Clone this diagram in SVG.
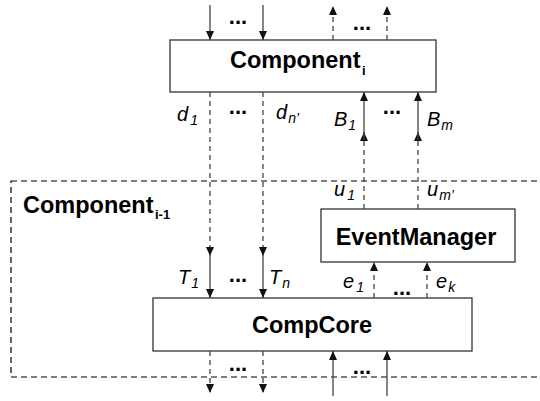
<svg xmlns="http://www.w3.org/2000/svg" width="540" height="401" viewBox="0 0 540 401">
<style>
.box{fill:#fff;stroke:#333;stroke-width:1.3}
.title{font-family:"Liberation Sans",Arial,sans-serif;font-weight:bold;font-size:23.5px;fill:#000}
.sub{font-family:"Liberation Sans",Arial,sans-serif;font-weight:bold;font-size:13px;fill:#000}
.lbl{font-family:"Liberation Sans",Arial,sans-serif;font-style:italic;font-size:20px;fill:#000}
.ls{font-size:14px}
.dots{font-family:"Liberation Sans",Arial,sans-serif;font-weight:bold;font-size:22px;fill:#000;text-anchor:middle}
.solid{stroke:#444;stroke-width:1.3;fill:none}
.dash{stroke:#444;stroke-width:1.3;fill:none;stroke-dasharray:5 4}
</style>
<defs>
<marker id="ah" markerUnits="userSpaceOnUse" markerWidth="9" markerHeight="8" refX="9" refY="4" orient="auto">
<path d="M0,0 L9,4 L0,8 z" fill="#111"/>
</marker>
</defs>
<rect id="outer" x="11" y="181" width="535" height="196" fill="none" stroke="#000" stroke-width="1.2" stroke-dasharray="6 4"/>
<text class="title" x="23" y="213">Component</text><text class="sub" x="155" y="219">i-1</text>
<g id="component_i">
<rect class="box" x="170" y="40" width="266" height="52"/>
<text class="title" x="230" y="68">Component</text><text class="sub" x="362" y="75">i</text>
</g>
<g id="eventmanager">
<rect class="box" x="321" y="209" width="194" height="53"/>
<text class="title" x="416" y="245" text-anchor="middle">EventManager</text>
</g>
<g id="compcore">
<rect class="box" x="153" y="298" width="319" height="53"/>
<text class="title" x="312" y="333" text-anchor="middle">CompCore</text>
</g>
<g id="connectors">
<line class="solid" x1="210" y1="5" x2="210" y2="40" marker-end="url(#ah)"/>
<line class="solid" x1="263" y1="5" x2="263" y2="40" marker-end="url(#ah)"/>
<line class="dash" x1="333" y1="40" x2="333" y2="6" marker-end="url(#ah)"/>
<line class="dash" x1="387" y1="40" x2="387" y2="6" marker-end="url(#ah)"/>
<line class="dash" x1="210" y1="92" x2="210" y2="256" marker-end="url(#ah)"/>
<line class="dash" x1="263" y1="92" x2="263" y2="256" marker-end="url(#ah)"/>
<line class="solid" x1="210" y1="256" x2="210" y2="298" marker-end="url(#ah)"/>
<line class="solid" x1="263" y1="256" x2="263" y2="298" marker-end="url(#ah)"/>
<line class="dash" x1="364" y1="209" x2="364" y2="132" marker-end="url(#ah)"/>
<line class="dash" x1="418" y1="209" x2="418" y2="132" marker-end="url(#ah)"/>
<line class="solid" x1="364" y1="140" x2="364" y2="92" marker-end="url(#ah)"/>
<line class="solid" x1="418" y1="140" x2="418" y2="92" marker-end="url(#ah)"/>
<line class="dash" x1="374" y1="298" x2="374" y2="262" marker-end="url(#ah)"/>
<line class="dash" x1="427" y1="298" x2="427" y2="262" marker-end="url(#ah)"/>
<line class="dash" x1="210" y1="351" x2="210" y2="393" marker-end="url(#ah)"/>
<line class="dash" x1="263" y1="351" x2="263" y2="393" marker-end="url(#ah)"/>
<line class="solid" x1="333" y1="396" x2="333" y2="351" marker-end="url(#ah)"/>
<line class="solid" x1="387" y1="396" x2="387" y2="351" marker-end="url(#ah)"/>
</g>
<g id="labels">
<text class="dots" x="238" y="24">...</text>
<text class="dots" x="362" y="30">...</text>
<text class="dots" x="238" y="114">...</text>
<text class="dots" x="392" y="114">...</text>
<text class="dots" x="238" y="282">...</text>
<text class="dots" x="402" y="295">...</text>
<text class="dots" x="238" y="371">...</text>
<text class="dots" x="362" y="374">...</text>
<text class="lbl" x="177" y="121">d<tspan class="ls" dx="2" dy="4">1</tspan></text>
<text class="lbl" x="276" y="119">d<tspan class="ls" dx="1" dy="4">n’</tspan></text>
<text class="lbl" x="334" y="126">B<tspan class="ls" dx="1" dy="4">1</tspan></text>
<text class="lbl" x="427" y="126">B<tspan class="ls" dx="1" dy="4">m</tspan></text>
<text class="lbl" x="334" y="196">u<tspan class="ls" dx="2" dy="4">1</tspan></text>
<text class="lbl" x="427" y="196">u<tspan class="ls" dx="1" dy="4">m’</tspan></text>
<text class="lbl" x="178" y="284">T<tspan class="ls" dx="1" dy="4">1</tspan></text>
<text class="lbl" x="269" y="284">T<tspan class="ls" dx="1" dy="4">n</tspan></text>
<text class="lbl" x="343" y="288">e<tspan class="ls" dx="2" dy="4">1</tspan></text>
<text class="lbl" x="436" y="288">e<tspan class="ls" dx="1" dy="4">k</tspan></text>
</g>
</svg>
